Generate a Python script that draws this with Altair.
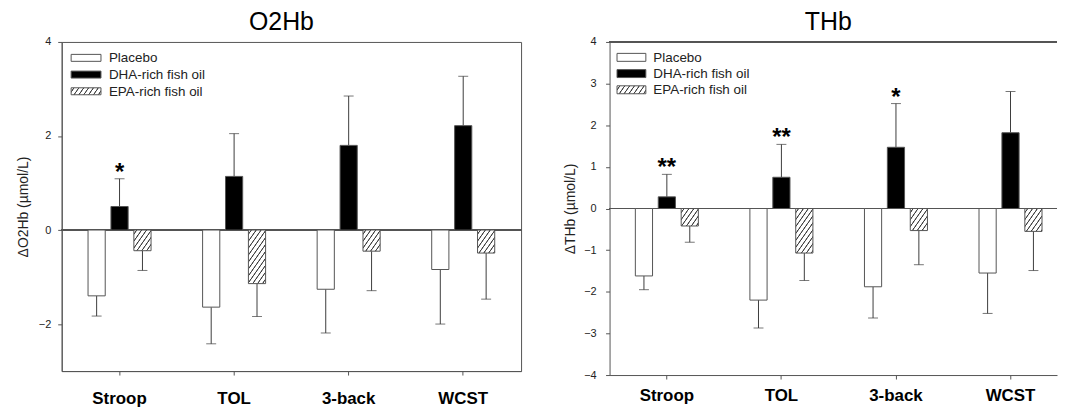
import math
import pandas as pd
import altair as alt

FONT = "Liberation Sans"

tasks = ["Stroop", "TOL", "3-back", "WCST"]
groups = ["Placebo", "DHA-rich fish oil", "EPA-rich fish oil"]

# O2Hb panel
o2_placebo = [-1.40, -1.64, -1.26, -0.84]
o2_placebo_err = [-1.83, -2.42, -2.19, -2.00]
o2_dha = [0.50, 1.14, 1.80, 2.22]
o2_dha_err = [1.09, 2.05, 2.85, 3.27]
o2_epa = [-0.44, -1.14, -0.45, -0.49]
o2_epa_err = [-0.86, -1.84, -1.29, -1.47]
o2_stars = ["*", "", "", ""]

# THb panel
th_placebo = [-1.62, -2.20, -1.88, -1.55]
th_placebo_err = [-1.95, -2.87, -2.63, -2.52]
th_dha = [0.28, 0.75, 1.47, 1.82]
th_dha_err = [0.82, 1.54, 2.52, 2.81]
th_epa = [-0.42, -1.07, -0.53, -0.55]
th_epa_err = [-0.81, -1.73, -1.35, -1.49]
th_stars = ["**", "**", "*", ""]

GRAY = "#555555"
LINE = "#3c3c3c"


def hatch(w, h, theta=55.0, period=4.0, col="#444444"):
    t = math.radians(theta)
    s, c = math.sin(t), math.cos(t)
    span = w * s + h * c
    k = span / (w * w * s * s + h * h * c * c)
    stops = []
    last = [0.0]

    def add(off, color):
        o = min(max(off / span, 0.0), 1.0)
        if o < last[0]:
            o = last[0]
        last[0] = o
        stops.append({"offset": round(o, 5), "color": color})

    add(0, "white")
    d = period * 0.6
    while d < span:
        add(d - 0.75, "white")
        add(d - 0.25, col)
        add(d + 0.25, col)
        add(d + 0.75, "white")
        d += period
    add(span, "white")
    return {"gradient": "linear", "x1": 0, "y1": 0,
            "x2": round(k * w * s, 5), "y2": round(k * h * c, 5), "stops": stops}


def panel(title, ytitle, pl, ple, dh, dhe, ep, epe, stars, dom, yvals,
          W, H, po, al, lab_pad_x, title_pad_y, lab_pad_y, title_off, title_dx,
          leg, frame):
    rows = []
    for i, t in enumerate(tasks):
        for g, vals, errs in zip(groups, [pl, dh, ep], [ple, dhe, epe]):
            rows.append(dict(task=t, group=g, value=vals[i], err=errs[i],
                             star=stars[i] if g == groups[1] else "",
                             key=g + "|" + t))
    df = pd.DataFrame(rows)
    ppu = H / (dom[1] - dom[0])
    conds = [{"test": "datum.group === '%s'" % groups[1], "value": "black"}]
    for i, t in enumerate(tasks):
        conds.append({"test": "datum.key === '%s|%s'" % (groups[2], t),
                      "value": hatch(17.2, abs(ep[i]) * ppu)})
    fill = {"condition": conds, "value": "white"}

    X = alt.X("task:N", sort=tasks,
              scale=alt.Scale(paddingInner=0.4, paddingOuter=po, align=al),
              axis=alt.Axis(title=None, labelAngle=0, labelFont=FONT,
                            labelFontWeight="bold", labelFontSize=17,
                            labelColor="black", labelPadding=lab_pad_x,
                            tickSize=4, tickColor=GRAY, domainColor=GRAY))
    XO = alt.XOffset("group:N", sort=groups,
                     scale=alt.Scale(domain=groups, paddingInner=0.25, paddingOuter=0.125))
    yscale = alt.Scale(domain=dom, nice=False, zero=False)
    yaxis = alt.Axis(values=yvals, title=ytitle, grid=False, labelFont=FONT,
                     labelFontSize=11, labelColor="#222222", labelPadding=lab_pad_y,
                     tickSize=4, tickColor=GRAY, domainColor=GRAY,
                     titleFont=FONT, titleFontSize=14, titleFontWeight="normal",
                     titleColor="#222222", titlePadding=title_pad_y)
    Yv = alt.Y("value:Q", scale=yscale, axis=yaxis)
    Ye = alt.Y("err:Q", scale=yscale, axis=yaxis)

    base = alt.Chart(df).encode(x=X, xOffset=XO)
    errs = base.mark_rule(color=LINE, strokeWidth=1).encode(y=Yv, y2="err:Q")
    caps = base.mark_tick(color=LINE, size=10, thickness=1).encode(y=Ye)
    bars = base.mark_bar(stroke=GRAY, strokeWidth=1).encode(y=Yv, fill=fill)
    zero = alt.Chart(df).mark_rule(color=GRAY, strokeWidth=1).encode(y=alt.datum(0))
    star = base.transform_filter("datum.star != ''").mark_text(
        font=FONT, fontWeight="bold", fontSize=24, baseline="alphabetic", dy=1,
        color="black").encode(y=Ye, text="star:N")

    one = alt.Chart(pd.DataFrame({"k": [0]}))
    lx0, lx1, ly, lh, lstep, ltx = leg
    legs = []
    fills = ["white", "black", hatch(lx1 - lx0, lh)]
    for j, g in enumerate(groups):
        y0 = ly + j * lstep
        legs.append(one.mark_rect(stroke=GRAY, strokeWidth=1).encode(
            x=alt.value(lx0), x2=alt.value(lx1), y=alt.value(y0), y2=alt.value(y0 + lh),
            fill=alt.value(fills[j])))
        legs.append(one.mark_text(font=FONT, fontSize=13.5, align="left", baseline="middle",
                                  color="#222222").encode(
            x=alt.value(ltx), y=alt.value(y0 + lh / 2 + 0.5), text=alt.value(g)))

    layers = [zero, errs, caps, bars, star] + legs
    props = dict(width=W, height=H,
                 title=alt.TitleParams(title, font=FONT, fontSize=25, fontWeight="normal",
                                       anchor="middle", frame="group", dx=title_dx,
                                       offset=title_off, color="black"))
    if frame:
        props["view"] = alt.ViewBackground(stroke=GRAY, strokeWidth=1)
    else:
        layers.append(alt.Chart(df).mark_rule(color=GRAY, strokeWidth=1).encode(
            y=alt.datum(dom[1])))
    return alt.layer(*layers).properties(**props)


left = panel("O2Hb", "\u0394O2Hb (\u00b5mol/L)",
             o2_placebo, o2_placebo_err, o2_dha, o2_dha_err, o2_epa, o2_epa_err, o2_stars,
             [-3, 4], [-2, 0, 2, 4], 462, 331, 0.205, 0.5, 16, 8, 7, 1.5, -10,
             (9.5, 39.5, 12.5, 7, 16.8, 47.5), True)
right = panel("THb", "\u0394THb (\u00b5mol/L)",
              th_placebo, th_placebo_err, th_dha, th_dha_err, th_epa, th_epa_err, th_stars,
              [-4, 4], [-4, -3, -2, -1, 0, 1, 2, 3, 4], 450, 335, 0.153, 0.654,
              9, 6, 9.5, 1.5, -5,
              (7.5, 36.5, 11.5, 8, 16.3, 44), False)

chart = alt.hconcat(left, right, spacing=41).properties(
    padding={"left": 7, "top": 0, "right": 0, "bottom": 0},
    background="white",
).configure_view(stroke="transparent")

chart.save("out.html", embed_options={"renderer": "svg", "actions": False})
